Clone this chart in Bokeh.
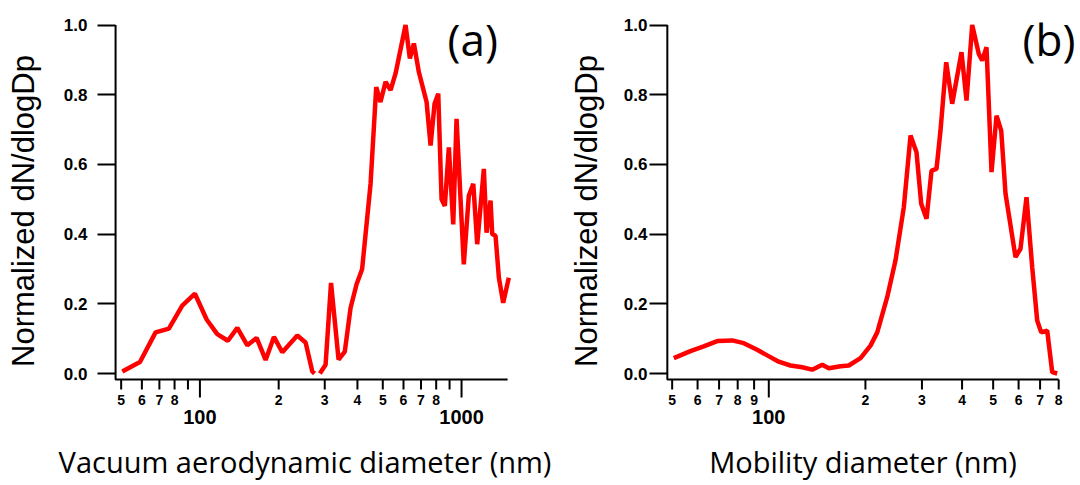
import numpy as np
from bokeh.plotting import figure
from bokeh.models import LogAxis, FixedTicker, Range1d, Label, Grid
from bokeh.layouts import row
from bokeh.embed import file_html
from bokeh.resources import INLINE

nan = float("nan")

# Panel (a): vacuum aerodynamic diameter (nm) vs normalized dN/dlogDp
a_x = [50.5, 59.0, 67.7, 76.1, 85.6, 95.7, 106.1, 116.5, 127.9, 139.0, 151.8, 164.7, 178.3,
       191.8, 206.5, 235.6, 253.5, 268.9, 274.4, nan, 287.4, 302.2, 317.1, 338.8, 358.0,
       376.5, 397.0, 416.8, 449.0, 472.0, 490.0, 512.5, 535.5, 559.6, 611.0, 634.6, 657.5,
       686.8, 735.2, 761.5, 788.6, 814.7, 838.7, 863.4, 894.3, 929.5, 957.0, 1020, 1066,
       1109, 1148, 1217, 1246, 1291, 1310, 1349, 1389, 1443, 1516]
a_y = [0.006, 0.033, 0.118, 0.129, 0.195, 0.229, 0.155, 0.113, 0.094, 0.131, 0.081, 0.102, 0.039,
       0.105, 0.061, 0.109, 0.089, 0.006, 0.0, nan, 0.0, 0.025, 0.26, 0.04, 0.063,
       0.188, 0.256, 0.299, 0.544, 0.822, 0.779, 0.837, 0.813, 0.861, 1.0, 0.904, 0.947,
       0.865, 0.779, 0.654, 0.774, 0.803, 0.5, 0.481, 0.649, 0.428, 0.731, 0.313, 0.51,
       0.544, 0.371, 0.587, 0.404, 0.496, 0.4, 0.395, 0.275, 0.203, 0.275]

# Panel (b): mobility diameter (nm) vs normalized dN/dlogDp
b_x = [50.6, 57.0, 62.7, 69.1, 76.9, 83.6, 92.0, 98.9, 107.4, 116.8, 127.1, 136.5, 146.7,
       153.8, 167.3, 177.5, 193.1, 207.4, 217.7, 233.8, 248.1, 263.4, 276.4, 288.5, 298.4,
       310.0, 321.3, 333.0, 342.7, 357.0, 372.7, 398.4, 413.0, 430.2, 451.1, 462.2, 476.7,
       494.2, 512.2, 529.7, 546.3, 586.9, 608.3, 635.1, 661.6, 685.7, 705.7, 736.7, 763.6, 791.4]
b_y = [0.044, 0.064, 0.078, 0.093, 0.095, 0.087, 0.068, 0.052, 0.034, 0.023, 0.018, 0.011, 0.025,
       0.015, 0.021, 0.023, 0.044, 0.08, 0.118, 0.219, 0.324, 0.477, 0.683, 0.635, 0.487,
       0.444, 0.582, 0.587, 0.697, 0.893, 0.774, 0.922, 0.783, 1.0, 0.917, 0.898, 0.936,
       0.578, 0.74, 0.697, 0.516, 0.334, 0.358, 0.506, 0.305, 0.152, 0.118, 0.123, 0.004, 0.0]

y_ticks = [0.0, 0.2, 0.4, 0.6, 0.8, 1.0]
y_tick_labels = ["0.0", "0.2", "0.4", "0.6", "0.8", "1.0"]

a_minor_ticks = [50, 60, 70, 80, 90, 200, 300, 400, 500, 600, 700, 800, 900]
a_minor_labels = ["5", "6", "7", "8", "", "2", "3", "4", "5", "6", "7", "8", ""]
a_major_ticks = [100, 1000]
a_major_labels = ["100", "1000"]

b_minor_ticks = [50, 60, 70, 80, 90, 200, 300, 400, 500, 600, 700, 800]
b_minor_labels = ["5", "6", "7", "8", "9", "2", "3", "4", "5", "6", "7", "8"]
b_major_ticks = [100]
b_major_labels = ["100"]

RED = "#ff0000"
TICK_FONT = "Liberation Sans"
LABEL_FONT = "Open Sans"

FIG_H = 485
BORDER_TOP = 22
BORDER_BOTTOM = 86
Y_RANGE = (-0.0746, 1.0072)
Y_AXIS_START = -0.0172          # where the x axis line sits
PX_PER_Y = (FIG_H - BORDER_TOP - BORDER_BOTTOM) / (Y_RANGE[1] - Y_RANGE[0])
SHORT_TICK = 10 / PX_PER_Y       # tick lengths expressed in y units
LONG_TICK = 18 / PX_PER_Y


def hide_lines(ax):
    ax.axis_line_color = None
    ax.major_tick_line_color = None
    ax.minor_tick_line_color = None
    ax.major_tick_in = 0
    ax.major_tick_out = 0
    ax.minor_tick_in = 0
    ax.minor_tick_out = 0


def make_panel(xs, ys, xr, xbounds, minor_ticks, minor_labels, major_ticks, major_labels,
               xlabel, tag, tag_x, width, border_left, border_right, ylab_standoff,
               ytick_standoff):
    p = figure(width=width, height=FIG_H, x_axis_type="log",
               x_range=Range1d(*xr), y_range=Range1d(*Y_RANGE),
               output_backend="svg", toolbar_location=None,
               min_border_left=border_left, min_border_right=border_right,
               min_border_top=BORDER_TOP, min_border_bottom=BORDER_BOTTOM)
    p.outline_line_color = None
    p.center = [r for r in p.center if not isinstance(r, Grid)]

    p.line(xs, ys, line_color=RED, line_width=4.5)

    # axis frame (left and bottom lines) as one polyline
    p.line(x=[xbounds[0], xbounds[0], xbounds[1]], y=[1.0, Y_AXIS_START, Y_AXIS_START],
           line_color="#000000", line_width=2, level="overlay")
    # x ticks hanging below the axis line
    tick_xs = [[t, t] for t in minor_ticks] + [[t, t] for t in major_ticks]
    tick_ys = ([[Y_AXIS_START, Y_AXIS_START - SHORT_TICK] for _ in minor_ticks]
               + [[Y_AXIS_START, Y_AXIS_START - LONG_TICK] for _ in major_ticks])
    p.multi_line(xs=tick_xs, ys=tick_ys, line_color="#000000", line_width=2,
                 level="overlay")

    # y axis: ticks point into the frame up to the axis line, labels outside
    yax = p.left[0]
    yax.ticker = FixedTicker(ticks=y_ticks, minor_ticks=[])
    yax.major_label_overrides = {t: l for t, l in zip(y_ticks, y_tick_labels)}
    hide_lines(yax)
    yax.major_tick_line_color = "black"
    yax.major_tick_line_width = 2
    yax.major_tick_in = 18
    yax.major_label_standoff = ytick_standoff
    yax.major_label_text_font = TICK_FONT
    yax.major_label_text_font_style = "bold"
    yax.major_label_text_font_size = "17px"
    yax.major_label_text_color = "black"
    yax.axis_label = "Normalized dN/dlogDp"
    yax.axis_label_text_font = "Liberation Sans"
    yax.axis_label_text_font_style = "normal"
    yax.axis_label_text_font_size = "31px"
    yax.axis_label_standoff = ylab_standoff
    yax.axis_label_text_color = "black"

    # x digit labels
    ax1 = p.below[0]
    ax1.ticker = FixedTicker(ticks=minor_ticks, minor_ticks=[])
    ax1.major_label_overrides = {t: l for t, l in zip(minor_ticks, minor_labels)}
    hide_lines(ax1)
    ax1.major_label_standoff = -5
    ax1.major_label_text_font = TICK_FONT
    ax1.major_label_text_font_style = "bold"
    ax1.major_label_text_font_size = "14px"
    ax1.major_label_text_color = "black"

    # x decade labels and the axis title
    ax2 = LogAxis(ticker=FixedTicker(ticks=major_ticks, minor_ticks=[]))
    ax2.major_label_overrides = {t: l for t, l in zip(major_ticks, major_labels)}
    hide_lines(ax2)
    ax2.major_label_standoff = 2
    ax2.major_label_text_font = TICK_FONT
    ax2.major_label_text_font_style = "bold"
    ax2.major_label_text_font_size = "20px"
    ax2.major_label_text_color = "black"
    ax2.axis_label = xlabel
    ax2.axis_label_text_font = LABEL_FONT
    ax2.axis_label_text_font_style = "normal"
    ax2.axis_label_text_font_size = "29px"
    ax2.axis_label_standoff = 15
    ax2.axis_label_text_color = "black"
    p.add_layout(ax2, "below")

    p.add_layout(Label(x=tag_x, y=0.96, text=tag, text_font=LABEL_FONT,
                       text_font_size="44px", text_color="black",
                       text_align="left", text_baseline="middle"))
    return p


pa = make_panel(a_x, a_y, (40.6, 1566), (47.6, 1500), a_minor_ticks, a_minor_labels,
                a_major_ticks, a_major_labels, "Vacuum aerodynamic diameter (nm)", "(a)", 884,
                562, 97, 50, 20, 10)
pb = make_panel(b_x, b_y, (42.5, 909), (48.3, 800), b_minor_ticks, b_minor_labels,
                b_major_ticks, b_major_labels, "Mobility diameter (nm)", "(b)", 617,
                516, 87, 2, 17, 2)

layout = row(pa, pb)
open("out.html", "w").write(file_html(layout, INLINE))
